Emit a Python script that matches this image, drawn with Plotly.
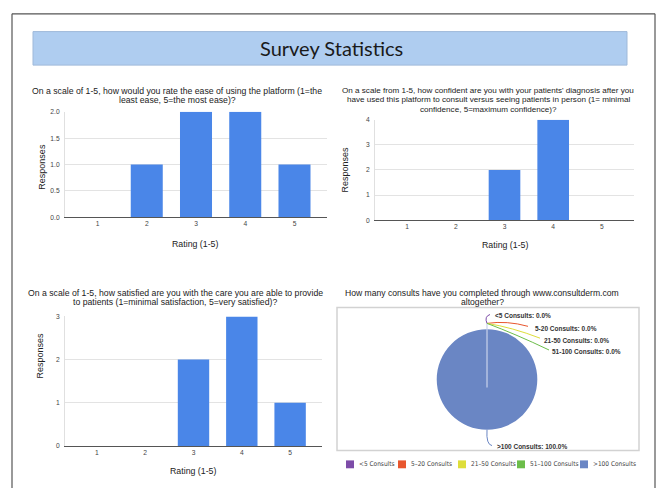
import plotly.graph_objects as go

# ---------------- data ----------------
ratings = [1, 2, 3, 4, 5]
ease_counts = [0, 1, 2, 2, 1]
confidence_counts = [0, 0, 2, 4, 0]
satisfaction_counts = [0, 0, 2, 3, 1]

consult_labels = ["<5 Consults", "5-20 Consults", "21-50 Consults", "51-100 Consults", ">100 Consults"]
consult_values = [0, 0, 0, 0, 6]

main_title = "Survey Statistics"
q1_title = ["On a scale of 1-5, how would you rate the ease of using the platform (1=the",
            "least ease, 5=the most ease)?"]
q2_title = ["On a scale from 1-5, how confident are you with your patients' diagnosis after you",
            "have used this platform to consult versus seeing patients in person (1= minimal",
            "confidence, 5=maximum confidence)?"]
q3_title = ["On a scale of 1-5, how satisfied are you with the care you are able to provide",
            "to patients (1=minimal satisfaction, 5=very satisfied)?"]
q4_title = ["How many consults have you completed through www.consultderm.com",
            "altogether?"]
x_title = "Rating (1-5)"
y_title = "Responses"

# ---------------- styling ----------------
W, H = 658, 491
BAR = "#4a86e8"
PIE_COLORS = ["#7d4ca8", "#e8562e", "#dede3a", "#6cbd4a", "#6a86c4"]
FONT = "Liberation Sans, Arial, sans-serif"


def px(x, y):
    return x / W, 1 - y / H


def xd(a, b):
    return [a / W, b / W]


def yd(top, bottom):
    return [1 - bottom / H, 1 - top / H]


fig = go.Figure()

for cnt, xa, ya in [(ease_counts, "x", "y"), (confidence_counts, "x2", "y2"), (satisfaction_counts, "x3", "y3")]:
    fig.add_trace(go.Bar(x=ratings, y=cnt, xaxis=xa, yaxis=ya, width=0.65,
                         marker=dict(color=BAR, line=dict(width=0)), showlegend=False,
                         hoverinfo="x+y"))

# pie
pcx, pcy, pr = 487, 381, 51
fig.add_trace(go.Pie(labels=consult_labels, values=consult_values, sort=False,
                     direction="clockwise", rotation=0, textinfo="none",
                     marker=dict(colors=PIE_COLORS, line=dict(width=0)),
                     domain=dict(x=xd(pcx - pr, pcx + pr), y=yd(pcy - pr, pcy + pr)),
                     showlegend=False))

tickfont = dict(family=FONT, size=6.7, color="#444")
common_x = dict(tickmode="array", tickvals=ratings, ticktext=[str(r) for r in ratings],
                showgrid=False, zeroline=False, showline=True, linecolor="#555", linewidth=1,
                ticks="", tickfont=tickfont, range=[0.34, 5.66], fixedrange=True)
common_y = dict(showgrid=True, gridcolor="#e3e3e3", gridwidth=1, zeroline=False,
                showline=True, linecolor="#e0e0e0", ticks="", tickfont=tickfont,
                ticklabelstandoff=3, fixedrange=True)

fig.update_layout(
    width=W, height=H, margin=dict(l=0, r=0, t=0, b=0),
    paper_bgcolor="white", plot_bgcolor="white",
    font=dict(family=FONT, color="#222"),
    bargap=0.35,
    xaxis=dict(domain=xd(65, 327), anchor="y", **common_x),
    yaxis=dict(domain=yd(109.3, 216.5), anchor="x", range=[0, 2], dtick=0.5, tickformat=".1f", **common_y),
    xaxis2=dict(domain=xd(375, 634), anchor="y2", **common_x),
    yaxis2=dict(domain=yd(117.3, 219.3), anchor="x2", range=[0, 4], dtick=1, **common_y),
    xaxis3=dict(domain=xd(65, 322), anchor="y3", **common_x),
    yaxis3=dict(domain=yd(317, 448.3), anchor="x3", range=[0, 3], dtick=1, **common_y),
)

shapes = []
# outer frame
for (x0, y0, x1, y1) in [(12, 10, 12, 491), (12, 10, 655, 10), (655, 10, 655, 491)]:
    a, b = px(x0, y0)
    c, d = px(x1, y1)
    shapes.append(dict(type="line", xref="paper", yref="paper", x0=a, y0=b, x1=c, y1=d,
                       line=dict(color="#555", width=1.2)))
# banner
a, b = px(33, 28)
c, d = px(627, 62)
shapes.append(dict(type="rect", xref="paper", yref="paper", x0=a, y0=d, x1=c, y1=b,
                   fillcolor="#afcdf0", line=dict(color="#9fb9d9", width=1), layer="below"))
# pie box
a, b = px(337, 308)
c, d = px(639, 453)
shapes.append(dict(type="rect", xref="paper", yref="paper", x0=a, y0=d, x1=c, y1=b,
                   fillcolor="rgba(0,0,0,0)", line=dict(color="#d2d2d2", width=1.5), layer="below"))
# slice boundary line
a, b = px(pcx, 323)
c, d = px(pcx, pcy + 8)
shapes.append(dict(type="line", xref="paper", yref="paper", x0=a, y0=b, x1=c, y1=d,
                   line=dict(color="#c9d3ec", width=1.2)))


def path(pts):
    (x0, y0), (cx, cy), (x1, y1) = [px(*p) for p in pts]
    return f"M {x0},{y0} Q {cx},{cy} {x1},{y1}"


leader_paths = [
    [(487, 324), (484, 317), (490, 315)],
    [(487, 324), (507, 321), (528, 327)],
    [(487, 324), (512, 328), (540, 339)],
    [(487, 324), (516, 335), (549, 351)],
    [(487, 432), (486, 447), (492, 448)],
]
for pts, col in zip(leader_paths, PIE_COLORS):
    shapes.append(dict(type="path", xref="paper", yref="paper", path=path(pts),
                       line=dict(color=col, width=1)))

# legend squares
legend_x = [346, 398, 458, 517, 580]
legend_y = 467
for lx, col in zip(legend_x, PIE_COLORS):
    a, b = px(lx, legend_y - 4)
    c, d = px(lx + 8, legend_y + 4)
    shapes.append(dict(type="rect", xref="paper", yref="paper", x0=a, y0=d, x1=c, y1=b,
                       fillcolor=col, line=dict(width=0)))

annotations = []


def ann(text, x, y, size, xanchor="center", yanchor="middle", color="#222", family=FONT, align="center"):
    ax, ay = px(x, y)
    annotations.append(dict(text=text, x=ax, y=ay, xref="paper", yref="paper", showarrow=False,
                            xanchor=xanchor, yanchor=yanchor, align=align,
                            font=dict(size=size, color=color, family=family)))


def title_lines(lines, x, y0, size, step=9.8):
    for i, ln in enumerate(lines):
        ann(ln, x, y0 + i * step, size)


ann(main_title, 331, 45, 20, family="Lato, Open Sans, sans-serif", color="#1a1a1a")
title_lines(q1_title, 177, 88, 8.7)
title_lines(q2_title, 488, 87.5, 8.1)
title_lines(q3_title, 175, 293, 8.7)
title_lines(q4_title, 482, 293, 8.6)

for xc, yc in [(195, 243), (505, 244), (193, 474)]:
    ann(x_title, xc, yc, 8.8)
for xc, yc in [(35, 165), (345, 168), (33, 382)]:
    ax, ay = px(xc, yc)
    annotations.append(dict(text=y_title, x=ax, y=ay, xref="paper", yref="paper", showarrow=False,
                            textangle=-90, font=dict(size=9, color="#222", family=FONT)))

# pie labels
total = sum(consult_values)
label_pos = [(493, 316), (533, 329), (542, 341), (550, 353), (495, 449)]
for lab, val, (lx, ly) in zip(consult_labels, consult_values, label_pos):
    ann(f"<b>{lab}: {100 * val / total:.1f}%</b>", lx, ly, 6.5, xanchor="left", color="#333")

# legend texts
for lx, lab in zip(legend_x, consult_labels):
    ann(lab.replace("-", "\u2013"), lx + 11, legend_y, 6.5, xanchor="left", color="#444",
        family="Liberation Sans Narrow, DejaVu Sans Condensed, Roboto, sans-serif")

fig.update_layout(shapes=shapes, annotations=annotations)
fig.write_html("out.html")
